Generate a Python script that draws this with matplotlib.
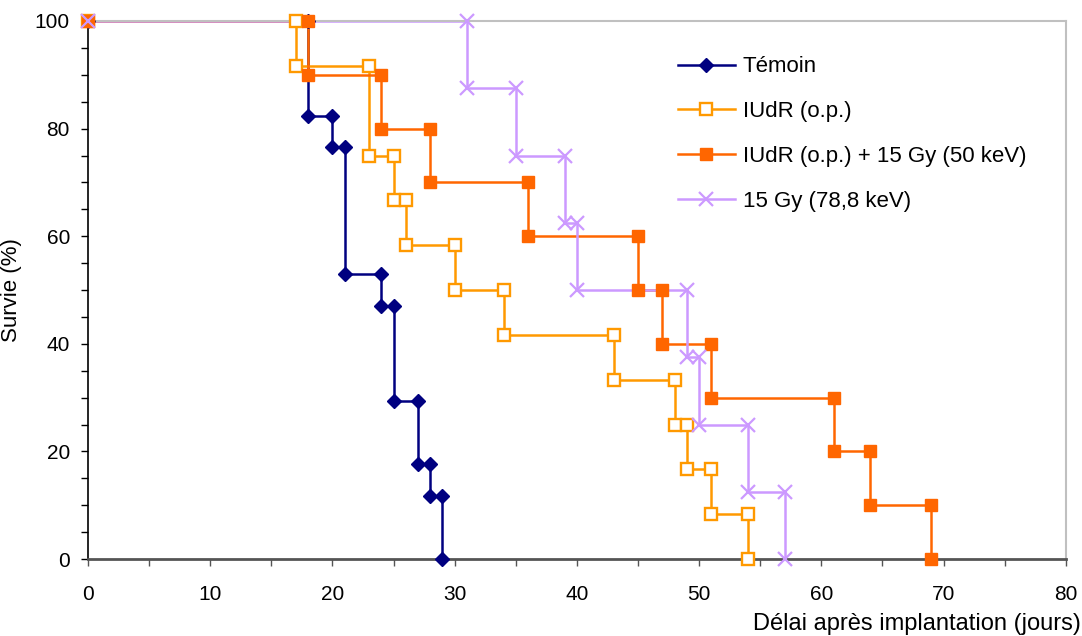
import numpy as np
from matplotlib import pyplot as plt
from matplotlib.lines import Line2D
from matplotlib.ticker import MultipleLocator

plt.rcParams['font.family'] = ['Liberation Sans', 'DejaVu Sans']

# Survival curves (step corners): day, % survival
temoin_x = [0, 18, 18, 20, 20, 21, 21, 24, 24, 25, 25, 27, 27, 28, 28, 29, 29]
temoin_y = [100, 100, 82.4, 82.4, 76.5, 76.5, 52.9, 52.9, 47.1, 47.1, 29.4, 29.4, 17.6, 17.6, 11.8, 11.8, 0]

iudr_x = [0, 17, 17, 23, 23, 25, 25, 26, 26, 30, 30, 34, 34, 43, 43, 48, 48, 49, 49, 51, 51, 54, 54]
iudr_y = [100, 100, 91.7, 91.7, 75, 75, 66.7, 66.7, 58.3, 58.3, 50, 50, 41.7, 41.7, 33.3, 33.3,
          25, 25, 16.7, 16.7, 8.3, 8.3, 0]

iudr_rx_x = [0, 18, 18, 24, 24, 28, 28, 36, 36, 45, 45, 47, 47, 51, 51, 61, 61, 64, 64, 69, 69]
iudr_rx_y = [100, 100, 90, 90, 80, 80, 70, 70, 60, 60, 50, 50, 40, 40, 30, 30, 20, 20, 10, 10, 0]

rx_x = [0, 31, 31, 35, 35, 39, 39, 40, 40, 49, 49, 50, 50, 54, 54, 57, 57]
rx_y = [100, 100, 87.5, 87.5, 75, 75, 62.5, 62.5, 50, 50, 37.5, 37.5, 25, 25, 12.5, 12.5, 0]

labels = ['Témoin', 'IUdR (o.p.)', 'IUdR (o.p.) + 15 Gy (50 keV)', '15 Gy (78,8 keV)']

series = [
    (temoin_x, temoin_y, '#000080', dict(marker='D', ms=7, mfc='#000080', mec='#000080', mew=1)),
    (iudr_x, iudr_y, '#FF9900', dict(marker='s', ms=8.5, mfc='white', mec='#FF9900', mew=1.7)),
    (iudr_rx_x, iudr_rx_y, '#FF6600', dict(marker='s', ms=9, mfc='#FF6600', mec='#FF6600', mew=1)),
    (rx_x, rx_y, '#CC99FF', dict(marker='x', ms=10, mec='#CC99FF', mew=1.6)),
]

fig = plt.figure(figsize=(10.82, 6.36), dpi=100)
ax = fig.add_axes([0.0813, 0.121, 0.9037, 0.846])

# lines first, then markers on top (like the spreadsheet drawing)
handles = []
for i, (x, y, c, mk) in enumerate(series):
    ax.plot(x, y, '-', color=c, lw=1.8, zorder=2, clip_on=False)
    ax.plot(x, y, ls='none', zorder=3 + i, clip_on=False, **mk)
    handles.append(Line2D([], [], color=c, lw=1.8, **mk))

ax.set_xlim(0, 80)
ax.set_ylim(0, 100)
ax.xaxis.set_major_locator(MultipleLocator(10))
ax.xaxis.set_minor_locator(MultipleLocator(5))
ax.yaxis.set_major_locator(MultipleLocator(20))
ax.yaxis.set_minor_locator(MultipleLocator(5))
ax.tick_params(which='both', direction='out', length=5, width=1, labelsize=15, pad=8)
ax.tick_params(axis='x', which='both', colors='#555555', labelcolor='black', pad=14)

ax.spines['top'].set_color('#C0C0C0')
ax.spines['right'].set_color('#C0C0C0')
ax.spines['top'].set_linewidth(1.5)
ax.spines['right'].set_linewidth(1.5)
ax.spines['left'].set_color('black')
ax.spines['left'].set_linewidth(1.2)
ax.spines['bottom'].set_color('#555555')
ax.spines['bottom'].set_linewidth(2)

ax.set_ylabel('Survie (%)', fontsize=16)
ax.yaxis.set_label_coords(-0.067, 0.5)
ax.set_xlabel('Délai après implantation (jours)', fontsize=17, va='center', ha='right')
ax.xaxis.set_label_coords(1.015, -0.12)

ax.legend(handles, labels, loc='upper left', bbox_to_anchor=(0.603, 0.934),
          frameon=False, fontsize=16, handlelength=2.57, handletextpad=0.36,
          labelspacing=1.07, borderpad=0, borderaxespad=0)

fig.savefig('out.png', dpi=100)
